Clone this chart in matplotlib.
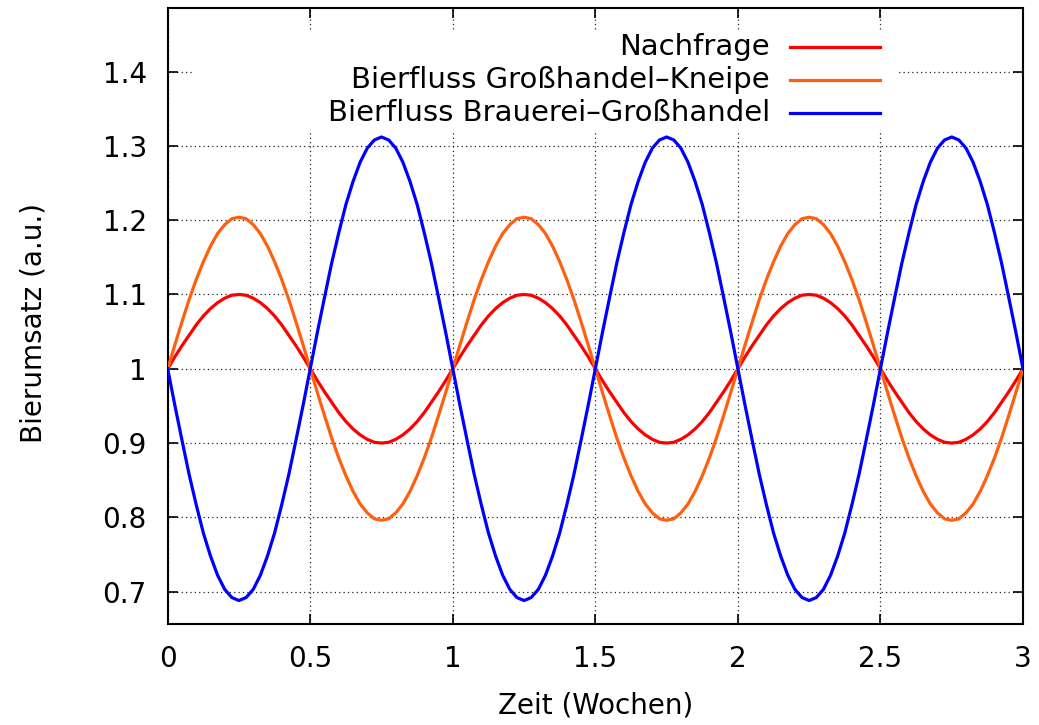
import matplotlib
matplotlib.use('Agg')
import matplotlib.pyplot as plt
from matplotlib.patches import Rectangle
from matplotlib.ticker import FormatStrFormatter
import numpy as np

plt.rcParams['font.family'] = ['DejaVu Sans']

# Zeit in Wochen, Schritt 0.025
zeit = np.linspace(0, 3, 121)

# Nachfrage
nachfrage = [
    1.000, 1.016, 1.031, 1.045, 1.059, 1.071, 1.081, 1.089, 1.095, 1.099,
    1.100, 1.099, 1.095, 1.089, 1.081, 1.071, 1.059, 1.045, 1.031, 1.016,
    1.000, 0.984, 0.969, 0.955, 0.941, 0.929, 0.919, 0.911, 0.905, 0.901,
    0.900, 0.901, 0.905, 0.911, 0.919, 0.929, 0.941, 0.955, 0.969, 0.984,
    1.000, 1.016, 1.031, 1.045, 1.059, 1.071, 1.081, 1.089, 1.095, 1.099,
    1.100, 1.099, 1.095, 1.089, 1.081, 1.071, 1.059, 1.045, 1.031, 1.016,
    1.000, 0.984, 0.969, 0.955, 0.941, 0.929, 0.919, 0.911, 0.905, 0.901,
    0.900, 0.901, 0.905, 0.911, 0.919, 0.929, 0.941, 0.955, 0.969, 0.984,
    1.000, 1.016, 1.031, 1.045, 1.059, 1.071, 1.081, 1.089, 1.095, 1.099,
    1.100, 1.099, 1.095, 1.089, 1.081, 1.071, 1.059, 1.045, 1.031, 1.016,
    1.000, 0.984, 0.969, 0.955, 0.941, 0.929, 0.919, 0.911, 0.905, 0.901,
    0.900, 0.901, 0.905, 0.911, 0.919, 0.929, 0.941, 0.955, 0.969, 0.984,
    1.000]

# Bierfluss Grosshandel-Kneipe
gross_kneipe = [
    1.000, 1.032, 1.063, 1.093, 1.120, 1.144, 1.165, 1.182, 1.194, 1.202,
    1.204, 1.202, 1.194, 1.182, 1.165, 1.144, 1.120, 1.093, 1.063, 1.032,
    1.000, 0.968, 0.937, 0.907, 0.880, 0.856, 0.835, 0.818, 0.806, 0.798,
    0.796, 0.798, 0.806, 0.818, 0.835, 0.856, 0.880, 0.907, 0.937, 0.968,
    1.000, 1.032, 1.063, 1.093, 1.120, 1.144, 1.165, 1.182, 1.194, 1.202,
    1.204, 1.202, 1.194, 1.182, 1.165, 1.144, 1.120, 1.093, 1.063, 1.032,
    1.000, 0.968, 0.937, 0.907, 0.880, 0.856, 0.835, 0.818, 0.806, 0.798,
    0.796, 0.798, 0.806, 0.818, 0.835, 0.856, 0.880, 0.907, 0.937, 0.968,
    1.000, 1.032, 1.063, 1.093, 1.120, 1.144, 1.165, 1.182, 1.194, 1.202,
    1.204, 1.202, 1.194, 1.182, 1.165, 1.144, 1.120, 1.093, 1.063, 1.032,
    1.000, 0.968, 0.937, 0.907, 0.880, 0.856, 0.835, 0.818, 0.806, 0.798,
    0.796, 0.798, 0.806, 0.818, 0.835, 0.856, 0.880, 0.907, 0.937, 0.968,
    1.000]

# Bierfluss Brauerei-Grosshandel
brauerei_gross = [
    1.000, 0.951, 0.904, 0.858, 0.817, 0.779, 0.748, 0.722, 0.703, 0.692,
    0.688, 0.692, 0.703, 0.722, 0.748, 0.779, 0.817, 0.858, 0.904, 0.951,
    1.000, 1.049, 1.096, 1.142, 1.183, 1.221, 1.252, 1.278, 1.297, 1.308,
    1.312, 1.308, 1.297, 1.278, 1.252, 1.221, 1.183, 1.142, 1.096, 1.049,
    1.000, 0.951, 0.904, 0.858, 0.817, 0.779, 0.748, 0.722, 0.703, 0.692,
    0.688, 0.692, 0.703, 0.722, 0.748, 0.779, 0.817, 0.858, 0.904, 0.951,
    1.000, 1.049, 1.096, 1.142, 1.183, 1.221, 1.252, 1.278, 1.297, 1.308,
    1.312, 1.308, 1.297, 1.278, 1.252, 1.221, 1.183, 1.142, 1.096, 1.049,
    1.000, 0.951, 0.904, 0.858, 0.817, 0.779, 0.748, 0.722, 0.703, 0.692,
    0.688, 0.692, 0.703, 0.722, 0.748, 0.779, 0.817, 0.858, 0.904, 0.951,
    1.000, 1.049, 1.096, 1.142, 1.183, 1.221, 1.252, 1.278, 1.297, 1.308,
    1.312, 1.308, 1.297, 1.278, 1.252, 1.221, 1.183, 1.142, 1.096, 1.049,
    1.000]

labels = ['Nachfrage', 'Bierfluss Großhandel\u2013Kneipe', 'Bierfluss Brauerei\u2013Großhandel']
farben = ['#ff0000', '#ff6010', '#0000ff']
xticks = [0, 0.5, 1, 1.5, 2, 2.5, 3]
yticks = [0.7, 0.8, 0.9, 1.0, 1.1, 1.2, 1.3, 1.4]

fig = plt.figure(figsize=(10.39, 7.25), dpi=100)
ax = fig.add_axes([0.1614, 0.1389, 0.8232, 0.8494])

for y, c in zip([nachfrage, gross_kneipe, brauerei_gross], farben):
    ax.plot(zeit, y, color=c, lw=2.3, zorder=3)

ax.set_xlim(0, 3)
ax.set_ylim(0.656, 1.485)
ax.set_xticks(xticks)
ax.set_yticks(yticks)
ax.xaxis.set_major_formatter(FormatStrFormatter('%g'))
ax.yaxis.set_major_formatter(FormatStrFormatter('%g'))
ax.tick_params(direction='in', length=7, width=1.2, top=True, right=True, labelsize=20)
ax.tick_params(axis='y', pad=15)
ax.tick_params(axis='x', pad=15)
ax.grid(True, color='#222222', linestyle=(0, (1, 2.5)), lw=0.9)
ax.set_axisbelow(True)
for s in ax.spines.values():
    s.set_linewidth(1.5)

ax.set_xlabel('Zeit (Wochen)', fontsize=20, labelpad=13)
ax.set_ylabel('Bierumsatz (a.u.)', fontsize=20)
ax.yaxis.set_label_coords(-0.141, 0.49)

# Legende wie bei gnuplot: Text rechtsbuendig, Linie rechts daneben
ax.add_patch(Rectangle((0.028, 0.803), 0.826, 0.162, transform=ax.transAxes,
                       facecolor='white', edgecolor='none', zorder=1.5))
for i, (lab, c) in enumerate(zip(labels, farben)):
    yy = 0.938 - i * 0.054
    ax.text(0.704, yy, lab, transform=ax.transAxes, ha='right', va='center',
            fontsize=21, zorder=4)
    ax.plot([0.728, 0.833], [yy, yy], transform=ax.transAxes, color=c, lw=2.3, zorder=4)

fig.savefig('out.png', dpi=100)
